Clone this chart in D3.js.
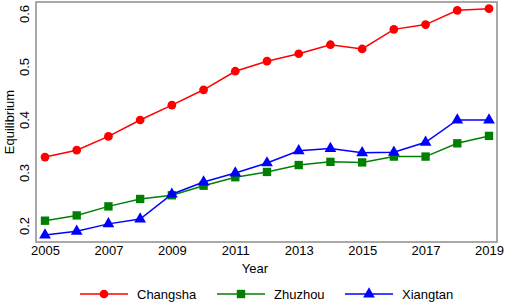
<!DOCTYPE html>
<html>
<head>
<meta charset="utf-8">
<script src="https://cdn.jsdelivr.net/npm/d3@7"></script>
<style>
  body { margin: 0; background: #fff; }
  text { font-family: "Liberation Sans", Arial, sans-serif; fill: #000; }
</style>
</head>
<body>
<div id="chart"></div>
<script>
const years = [2005, 2006, 2007, 2008, 2009, 2010, 2011, 2012, 2013, 2014, 2015, 2016, 2017, 2018, 2019];
const changsha = [0.330, 0.343, 0.369, 0.400, 0.428, 0.457, 0.492, 0.511, 0.525, 0.542, 0.534, 0.571, 0.580, 0.607, 0.610];
const zhuzhou  = [0.210, 0.220, 0.237, 0.251, 0.258, 0.276, 0.292, 0.302, 0.315, 0.321, 0.320, 0.331, 0.331, 0.356, 0.370];
const xiangtan = [0.183, 0.190, 0.204, 0.213, 0.260, 0.283, 0.300, 0.319, 0.342, 0.346, 0.338, 0.339, 0.358, 0.400, 0.400];
const xTicks = [2005, 2007, 2009, 2011, 2013, 2015, 2017, 2019];
const yTicks = [0.2, 0.3, 0.4, 0.5, 0.6];

const series = [
    { name: 'Changsha', values: changsha, color: '#ff0000', shape: d3.symbolCircle, size: 60 },
    { name: 'Zhuzhou', values: zhuzhou, color: '#008000', shape: d3.symbolSquare, size: 70 },
    { name: 'Xiangtan', values: xiangtan, color: '#0000ff', shape: d3.symbolTriangle, size: 60 }
];

const width = 505;
const height = 302;
const box = { left: 36, right: 497, top: 2, bottom: 242 };

const x = d3.scaleLinear().domain([2005, 2019]).range([45, 489]);
const y = d3.scaleLinear().domain([0.2, 0.6]).range([226, 14]);

const svg = d3.select('#chart')
    .append('svg')
    .attr('width', width)
    .attr('height', height);

// marco
svg.append('rect')
    .attr('x', box.left)
    .attr('y', box.top)
    .attr('width', box.right - box.left)
    .attr('height', box.bottom - box.top)
    .attr('fill', 'none')
    .attr('stroke', '#8c8c8c')
    .attr('stroke-width', 1.5);

// eje x
const xAxis = svg.append('g')
    .attr('transform', `translate(0, ${box.bottom})`)
    .call(d3.axisBottom(x).tickValues(xTicks).tickFormat(d3.format('d')).tickSize(0).tickPadding(4));
xAxis.select('.domain').remove();
xAxis.selectAll('text').style('font-size', '13px').style('font-family', '"Liberation Sans", Arial, sans-serif');

// eje y (etiquetas giradas)
svg.append('g')
    .selectAll('text')
    .data(yTicks)
    .enter()
    .append('text')
    .attr('transform', d => `translate(29, ${y(d)}) rotate(-90)`)
    .attr('text-anchor', 'middle')
    .style('font-size', '13px')
    .text(d => d3.format('.1f')(d));

svg.append('text')
    .attr('x', 255)
    .attr('y', 273)
    .attr('text-anchor', 'middle')
    .style('font-size', '13px')
    .text('Year');

svg.append('text')
    .attr('transform', 'translate(14, 122) rotate(-90)')
    .attr('text-anchor', 'middle')
    .style('font-size', '13px')
    .text('Equilibrium');

const line = d3.line()
    .x((d, i) => x(years[i]))
    .y(d => y(d));

series.forEach(s => {
    svg.append('path')
        .datum(s.values)
        .attr('d', line)
        .attr('fill', 'none')
        .attr('stroke', s.color)
        .attr('stroke-width', 1.5);

    svg.append('g')
        .selectAll('path')
        .data(s.values)
        .enter()
        .append('path')
        .attr('transform', (d, i) => `translate(${x(years[i])}, ${y(d)})`)
        .attr('d', d3.symbol().type(s.shape).size(s.size))
        .attr('fill', s.color);
});

// leyenda
const legendX = [80, 217, 345];
const legend = svg.append('g');
series.forEach((s, i) => {
    const g = legend.append('g').attr('transform', `translate(${legendX[i]}, 294)`);
    g.append('line')
        .attr('x1', 0).attr('x2', 48)
        .attr('stroke', s.color)
        .attr('stroke-width', 1.5);
    g.append('path')
        .attr('transform', 'translate(24, 0)')
        .attr('d', d3.symbol().type(s.shape).size(s.size))
        .attr('fill', s.color);
    g.append('text')
        .attr('x', 57)
        .attr('y', 5)
        .style('font-size', '13px')
        .text(s.name);
});
</script>
</body>
</html>
